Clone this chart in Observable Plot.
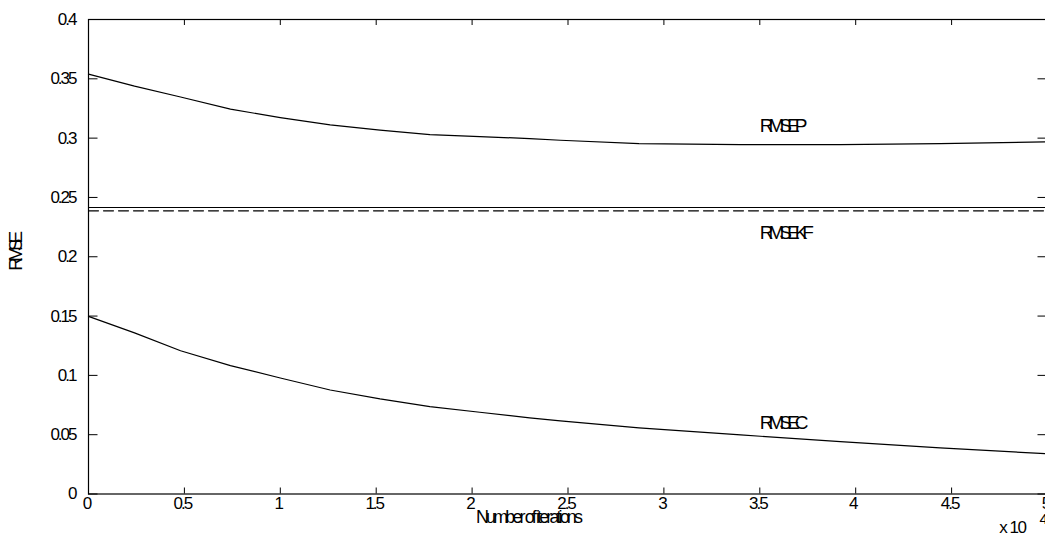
<!DOCTYPE html>
<html>
<head>
<meta charset="utf-8">
<script src="https://cdn.jsdelivr.net/npm/d3@7"></script>
<script src="https://cdn.jsdelivr.net/npm/@observablehq/plot@0.6"></script>
<style>
  html, body { margin: 0; padding: 0; background: white; overflow: hidden; }
</style>
</head>
<body>
<div id="chart"></div>
<script>
// Iterations (x 10^4)
const iters = [0, 0.24, 0.48, 0.74, 1.0, 1.26, 1.52, 1.78, 2.04, 2.30, 2.46, 2.87, 3.40, 3.92, 4.44, 5.0];
const rmsep = [0.3539, 0.3438, 0.3347, 0.3244, 0.3173, 0.3111, 0.3067, 0.3030, 0.3013, 0.2996, 0.2982, 0.2954, 0.2946, 0.2946, 0.2954, 0.2968];
const rmsec = [0.1497, 0.1358, 0.1208, 0.1082, 0.0978, 0.0877, 0.0802, 0.0737, 0.0689, 0.0642, 0.0616, 0.0557, 0.0498, 0.0442, 0.0389, 0.0339];
const rmsekfSolid = 0.2415;
const rmsekfDashed = 0.2387;
const xExtent = [0, 5];
const yExtent = [0, 0.4];
const xTicks = [0, 0.5, 1, 1.5, 2, 2.5, 3, 3.5, 4, 4.5, 5];
const yTicks = [0, 0.05, 0.1, 0.15, 0.2, 0.25, 0.3, 0.35, 0.4];
const curveLabels = ["RMSEP", "RMSEKF", "RMSEC"];
const curveLabelX = [3.5, 3.5, 3.5];
const curveLabelY = [0.31, 0.22, 0.06];
const xLabel = "Number of iterations";
const yLabel = "RMSE";
const xExp = "x 10";
const xExpPow = "4";

const P = iters.map((x, i) => ({x, y: rmsep[i]}));
const C = iters.map((x, i) => ({x, y: rmsec[i]}));
const KF = [{x: xExtent[0], y: rmsekfSolid}, {x: xExtent[1], y: rmsekfSolid}];
const KFd = [{x: xExtent[0], y: rmsekfDashed}, {x: xExtent[1], y: rmsekfDashed}];
const labels = curveLabels.map((t, i) => ({t, x: curveLabelX[i], y: curveLabelY[i]}));

const mL = 88, mR = -2, mT = 19, mB = 39.5, W = 1045, H = 533;
const pw = W - mL - mR, ph = H - mT - mB;
const fmt = d => String(d);

const chart = Plot.plot({
  width: W, height: H,
  marginLeft: mL, marginRight: mR, marginTop: mT, marginBottom: mB,
  x: {domain: xExtent},
  y: {domain: yExtent},
  style: {fontFamily: "'Liberation Sans', Arial, sans-serif", background: "white", color: "black"},
  marks: [
    Plot.line(P, {x: "x", y: "y", stroke: "black", strokeWidth: 1.2}),
    Plot.line(C, {x: "x", y: "y", stroke: "black", strokeWidth: 1.2}),
    Plot.line(KF, {x: "x", y: "y", stroke: "black", strokeWidth: 1.1}),
    Plot.line(KFd, {x: "x", y: "y", stroke: "black", strokeWidth: 1.1, strokeDasharray: "10,5"}),
    Plot.text(labels, {x: "x", y: "y", text: "t", textAnchor: "start", lineAnchor: "middle", fontSize: 19, fill: "black"}),
    // inward ticks
    Plot.tickY(yTicks, {y: d => d, insetRight: pw - 9.5, stroke: "black"}),
    Plot.tickY(yTicks, {y: d => d, insetLeft: pw - 9.5, stroke: "black"}),
    Plot.tickX(xTicks, {x: d => d, insetTop: ph - 6, stroke: "black"}),
    Plot.tickX(xTicks, {x: d => d, insetBottom: ph - 6, stroke: "black"}),
    Plot.frame({stroke: "black", strokeWidth: 1.2}),
    Plot.axisY(yTicks, {anchor: "left", tickSize: 0, tickPadding: 13, tickFormat: fmt, label: null, fontSize: 17}),
    Plot.axisX(xTicks, {anchor: "bottom", tickSize: 0, tickPadding: 3, dx: -2, tickFormat: fmt, label: null, fontSize: 17}),
    Plot.text([xLabel], {frameAnchor: "bottom", text: d => d, lineAnchor: "top", dy: 16.5, dx: -40, fontSize: 18}),
    Plot.text([yLabel], {frameAnchor: "left", text: d => d, rotate: -90, lineAnchor: "middle", dx: -73, dy: 14, fontSize: 19}),
    Plot.text([xExp], {frameAnchor: "bottom-right", text: d => d, textAnchor: "end", lineAnchor: "top", dx: -22, dy: 26.5, fontSize: 17}),
    Plot.text([xExpPow], {frameAnchor: "bottom-right", text: d => d, textAnchor: "start", lineAnchor: "top", dx: -8, dy: 19.5, fontSize: 15})
  ]
});
document.getElementById("chart").appendChild(chart);

// condensed look of the original rendering
const spacing = new Map();
curveLabels.forEach(t => spacing.set(t, "-5px"));
spacing.set(xLabel, "-2.9px");
spacing.set(yLabel, "-5px");
spacing.set(xExp, "-1.5px");
d3.select(chart).selectAll("text").each(function() {
  const t = this.textContent;
  const s = spacing.has(t) ? spacing.get(t) : (/^[0-9.]+$/.test(t) && t !== xExpPow ? "-2px" : null);
  if (s) { this.style.letterSpacing = s; this.setAttribute("letter-spacing", s); }
});
</script>
</body>
</html>
